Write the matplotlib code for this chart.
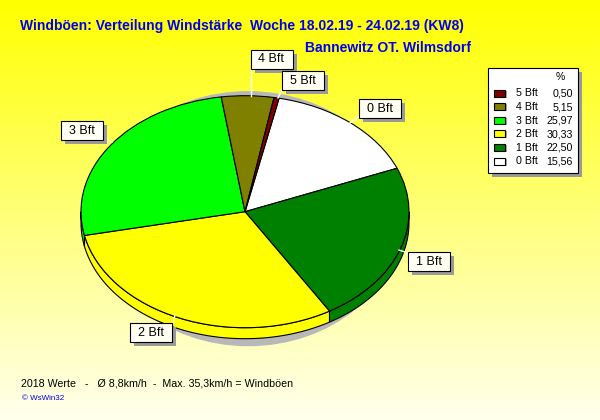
import numpy as np
import matplotlib
matplotlib.use('Agg')
import matplotlib.pyplot as plt
from matplotlib.patches import Polygon, Ellipse, Rectangle

# ---------------- data ----------------
categories = ['0 Bft', '1 Bft', '2 Bft', '3 Bft', '4 Bft', '5 Bft']
values = [15.56, 22.50, 30.33, 25.97, 5.15, 0.50]
value_labels = ['15,56', '22,50', '30,33', '25,97', '5,15', '0,50']
colors = ['#ffffff', '#008000', '#ffff00', '#00ff00', '#808000', '#800000']
title = 'Windböen: Verteilung Windstärke  Woche 18.02.19 - 24.02.19 (KW8)'
subtitle = 'Bannewitz OT. Wilmsdorf'
footer = '2018 Werte   -   Ø 8,8km/h  -  Max. 35,3km/h = Windböen'
credit = '© WsWin32'

plt.rcParams['font.family'] = ['Liberation Sans', 'DejaVu Sans']

W, H = 600, 420
fig = plt.figure(figsize=(6, 4.2), dpi=100)

# ---------------- background gradient ----------------
bg = fig.add_axes([0, 0, 1, 1])
g = np.linspace(0, 1, 256)[:, None]
rgb = np.ones((256, 1, 3))
rgb[..., 2] = g * 0.93
bg.imshow(rgb, aspect='auto', extent=[0, 1, 0, 1], origin='upper')
bg.set_xlim(0, 1); bg.set_ylim(0, 1)
bg.axis('off')

# ---------------- pie (elliptical, pseudo 3D) ----------------
cx, cy, rx, ry = 245, 211.7, 164, 116
depth = 11.0 / ry
pa = fig.add_axes([0, 0, 1, 1])
wedges, _ = pa.pie(values, colors=colors, startangle=78, counterclock=False,
                   wedgeprops=dict(edgecolor='black', linewidth=0.8, zorder=3))
pa.set_aspect('auto')
pa.set_xlim(-cx / rx, (W - cx) / rx)
pa.set_ylim((cy - H) / ry, cy / ry)
pa.axis('off')

# shadow
pa.add_patch(Ellipse((0.02, -0.06), 1.86, 2.2, facecolor='#b8b8b8',
                     edgecolor='none', zorder=0.5))

# sides
for w in wedges:
    t1, t2 = w.theta1, w.theta2
    for k in (-1, 0, 1):
        lo = max(t1, -180 + 360 * k)
        hi = min(t2, 360 * k)
        if hi > lo:
            ts = np.radians(np.linspace(lo, hi, 80))
            xs, ys = np.cos(ts), np.sin(ts)
            pts = np.concatenate([np.column_stack([xs, ys]),
                                  np.column_stack([xs[::-1], ys[::-1] - depth])])
            pa.add_patch(Polygon(pts, closed=True, facecolor=w.get_facecolor(),
                                 edgecolor='black', linewidth=0.8, zorder=1))

# ---------------- overlay in pixel coordinates ----------------
ov = fig.add_axes([0, 0, 1, 1])
ov.set_xlim(0, W); ov.set_ylim(H, 0)
ov.axis('off')

# leader lines
leaders = {
    '4 Bft': [(251, 68), (251, 96)],
    '5 Bft': [(282, 90), (278, 98)],
    '0 Bft': [(358, 117), (350, 123)],
    '3 Bft': [(103, 137), (112, 142)],
    '2 Bft': [(173, 323), (175, 315)],
    '1 Bft': [(408, 253), (399, 250)],
}
for name, pts in leaders.items():
    (x0, y0), (x1, y1) = pts
    ov.plot([x0, x1], [y0, y1], color='white', lw=1.0, zorder=2)

# label boxes
label_pos = {
    '4 Bft': (271.5, 59),
    '5 Bft': (302.5, 80),
    '0 Bft': (380, 108),
    '3 Bft': (82, 130),
    '1 Bft': (429, 261.5),
    '2 Bft': (150.5, 332.5),
}
bw, bh = 42, 19
for name in categories:
    x, y = label_pos[name]
    ov.add_patch(Rectangle((x - bw / 2 + 4, y - bh / 2 + 4), bw, bh,
                           facecolor='#9a9a9a', edgecolor='none', zorder=3))
    ov.add_patch(Rectangle((x - bw / 2, y - bh / 2), bw, bh,
                           facecolor='#fffff4', edgecolor='black', lw=0.8, zorder=4))
    ov.text(x, y + 0.5, name, ha='center', va='center', fontsize=9, color='black',
            zorder=5)

# titles
ov.text(20, 26, title, ha='left', va='center', fontsize=10, fontweight='bold',
        color='#0000f0')
ov.text(305, 48.5, subtitle, ha='left', va='center', fontsize=10, fontweight='bold',
        color='#0000f0')
ov.text(21, 383, footer, ha='left', va='center', fontsize=7.7, color='black')
ov.text(22, 399, credit, ha='left', va='center', fontsize=5.8, color='#0000f0')

# legend
lx0, ly0, lx1, ly1 = 488, 68, 578, 173
ov.add_patch(Rectangle((lx0 + 4, ly0 + 4), lx1 - lx0, ly1 - ly0,
                       facecolor='#9a9a9a', edgecolor='none', zorder=3))
ov.add_patch(Rectangle((lx0, ly0), lx1 - lx0, ly1 - ly0,
                       facecolor='white', edgecolor='black', lw=0.8, zorder=4))
ov.text(560, 76.5, '%', ha='center', va='center', fontsize=7.5, zorder=5)
row_y0, row_dy = 93.5, 13.6
order = list(range(len(categories)))[::-1]
for i, idx in enumerate(order):
    y = row_y0 + i * row_dy
    ov.add_patch(Rectangle((496, y - 3), 11, 7, facecolor='#a8a8a8',
                           edgecolor='none', zorder=5))
    ov.add_patch(Rectangle((494, y - 4), 11, 7, facecolor=colors[idx],
                           edgecolor='black', lw=0.8, zorder=6))
    ov.text(516, y, categories[idx], ha='left', va='center', fontsize=7.7, zorder=6)
    ov.text(573, y, value_labels[idx], ha='right', va='center', fontsize=7.7, zorder=6)

fig.savefig('out.png', dpi=100)
